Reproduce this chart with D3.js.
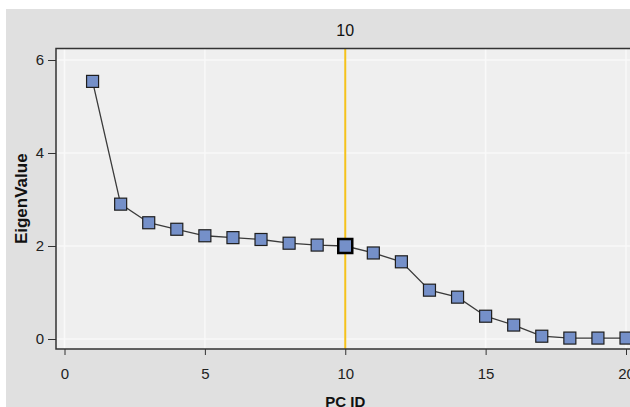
<!DOCTYPE html>
<html>
<head>
<meta charset="utf-8">
<script src="https://cdn.jsdelivr.net/npm/d3@7"></script>
<style>
  body { margin: 0; background: #fff; }
  text { font-family: "Liberation Sans", Arial, sans-serif; }
</style>
</head>
<body>
<div id="chart"></div>
<script>
// component ids and eigen values
var pcIds = [1,2,3,4,5,6,7,8,9,10,11,12,13,14,15,16,17,18,19,20];
var eigenValues = [5.54,2.9,2.5,2.36,2.22,2.18,2.14,2.06,2.02,2.0,1.85,1.66,1.05,0.9,0.49,0.3,0.06,0.02,0.02,0.02];
var xTicks = [0,5,10,15,20];
var yTicks = [0,2,4,6];
var selectedId = 10;

var W = 630, H = 407;

var svg = d3.select("#chart").append("svg")
    .attr("width", W)
    .attr("height", H);

// outer grey panel
svg.append("rect")
    .attr("x", 6).attr("y", 9)
    .attr("width", W - 6).attr("height", H - 9)
    .attr("fill", "#e0e0e0");

var x = d3.scaleLinear().domain([0, 20]).range([64.5, 626]);
var y = d3.scaleLinear().domain([0, 6]).range([339, 60]);

var plotL = 56, plotT = 48.5, plotB = 349;

// plot area
svg.append("rect")
    .attr("x", plotL).attr("y", plotT)
    .attr("width", W - plotL + 2).attr("height", plotB - plotT)
    .attr("fill", "#efefef");

// grid lines
svg.append("g").selectAll("line")
    .data(yTicks)
  .enter().append("line")
    .attr("x1", plotL).attr("x2", W)
    .attr("y1", function(d) { return y(d); })
    .attr("y2", function(d) { return y(d); })
    .attr("stroke", "#f9f9f9").attr("stroke-width", 1.5);

svg.append("g").selectAll("line")
    .data(xTicks)
  .enter().append("line")
    .attr("x1", function(d) { return x(d); })
    .attr("x2", function(d) { return x(d); })
    .attr("y1", plotT).attr("y2", plotB)
    .attr("stroke", "#f9f9f9").attr("stroke-width", 1.5);

// selection reference line
svg.append("line")
    .attr("x1", x(selectedId)).attr("x2", x(selectedId))
    .attr("y1", plotT).attr("y2", plotB)
    .attr("stroke", "#f5c21b").attr("stroke-width", 2);

svg.append("text")
    .attr("x", x(selectedId)).attr("y", 36)
    .attr("text-anchor", "middle")
    .attr("font-size", 16)
    .attr("fill", "#111")
    .text(selectedId);

// border (left, top, bottom)
svg.append("path")
    .attr("d", "M" + W + "," + plotT + "H" + plotL + "V" + plotB + "H" + W)
    .attr("fill", "none")
    .attr("stroke", "#333")
    .attr("stroke-width", 1.5);

// axes
var yAxis = svg.append("g")
    .attr("transform", "translate(" + plotL + ",0)")
    .call(d3.axisLeft(y).tickValues(yTicks).tickSize(8).tickFormat(d3.format("d")));
var xAxis = svg.append("g")
    .attr("transform", "translate(0," + plotB + ")")
    .call(d3.axisBottom(x).tickValues(xTicks).tickSize(6).tickFormat(d3.format("d")));

[yAxis, xAxis].forEach(function(a) {
  a.select(".domain").remove();
  a.selectAll(".tick line").attr("stroke", "#333");
  a.selectAll(".tick text")
      .attr("font-size", 15)
      .attr("font-family", "Liberation Sans, Arial, sans-serif")
      .attr("fill", "#222");
});
yAxis.selectAll(".tick text").attr("x", -12);
xAxis.selectAll(".tick text").attr("y", 30).attr("dy", 0);

svg.append("text")
    .attr("transform", "translate(27," + ((plotT + plotB) / 2) + ") rotate(-90)")
    .attr("text-anchor", "middle")
    .attr("font-size", 17)
    .attr("font-weight", "bold")
    .attr("fill", "#111")
    .text("EigenValue");

svg.append("text")
    .attr("x", x(10)).attr("y", 407)
    .attr("text-anchor", "middle")
    .attr("font-size", 15)
    .attr("font-weight", "bold")
    .attr("fill", "#111")
    .text("PC ID");

// series line
var data = pcIds.map(function(d, i) { return {id: d, value: eigenValues[i]}; });

var valueline = d3.line()
    .x(function(d) { return x(d.id); })
    .y(function(d) { return y(d.value); });

svg.append("path")
    .datum(data)
    .attr("d", valueline)
    .attr("fill", "none")
    .attr("stroke", "#3a3a3a")
    .attr("stroke-width", 1.3);

// markers
svg.append("g").selectAll("rect")
    .data(data)
  .enter().append("rect")
    .attr("x", function(d) { var s = d.id === selectedId ? 14 : 12; return x(d.id) - s / 2; })
    .attr("y", function(d) { var s = d.id === selectedId ? 14 : 12; return y(d.value) - s / 2; })
    .attr("width", function(d) { return d.id === selectedId ? 14 : 12; })
    .attr("height", function(d) { return d.id === selectedId ? 14 : 12; })
    .attr("fill", "#7590c9")
    .attr("stroke", function(d) { return d.id === selectedId ? "#000" : "#1e1e1e"; })
    .attr("stroke-width", function(d) { return d.id === selectedId ? 2.5 : 1.2; });
</script>
</body>
</html>
